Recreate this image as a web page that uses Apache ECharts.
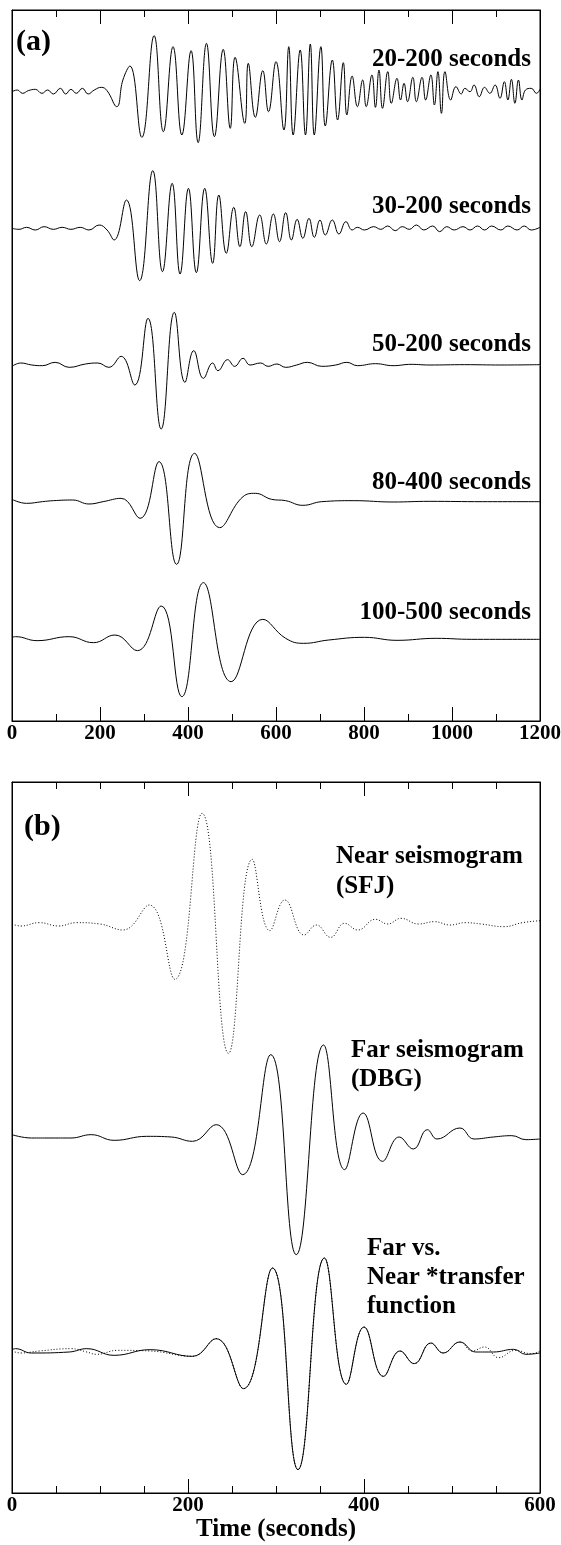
<!DOCTYPE html>
<html><head><meta charset="utf-8">
<script src="https://cdn.jsdelivr.net/npm/echarts@6/dist/echarts.min.js"></script>
<style>html,body{margin:0;padding:0;background:#fff}#c{width:561px;height:1545px}</style>
</head><body><div id="c"></div>
<script>
// ---------- Panel (a): band-passed seismograms, [time s, amplitude] ----------
const tick_a = [0, 200, 400, 600, 800, 1000, 1200];
const labels_a = ['20-200 seconds', '30-200 seconds', '50-200 seconds', '80-400 seconds', '100-500 seconds'];
const offsets_a = [1888, 1478, 1068, 658, 246];

const bp20_200 = [[0,0],[12,5],[24,-5],[37,3],[53,7],[68,-5],[81,5],[94,-7],[110,10],[122,-7],[134,7],[146,-5],[160,10],[173,-7],[187,5],[203,13],[216,3],[238,-45],[252,35],[268,77],[295,-137],[323,168],[344,-120],[366,135],[386,-130],[407,123],[423,-153],[442,145],[460,-135],[480,127],[496,-110],[507,103],[529,-95],[537,85],[553,-77],[570,63],[583,-60],[600,90],[618,-115],[629,135],[639,-130],[655,125],[667,-130],[678,143],[687,-130],[702,135],[712,-103],[728,95],[740,-85],[753,87],[761,-70],[773,47],[785,-45],[797,35],[805,-45],[818,50],[826,-47],[834,65],[842,-50],[854,60],[862,-35],[875,40],[883,-25],[891,25],[899,-30],[911,43],[919,-30],[932,43],[940,-25],[952,50],[960,-40],[968,60],[976,-65],[984,60],[997,-25],[1009,15],[1021,-7],[1029,10],[1041,0],[1050,20],[1062,-15],[1074,13],[1086,-5],[1098,20],[1109,-20],[1119,30],[1127,-25],[1135,37],[1143,-35],[1151,35],[1159,-25],[1167,5],[1180,10],[1192,-5],[1200,7]];

const bp30_200 = [[0,0],[16,-3],[33,3],[53,-5],[73,5],[94,-3],[114,3],[134,-3],[155,3],[175,-5],[198,10],[216,-5],[232,-35],[260,85],[290,-157],[320,173],[342,-130],[364,135],[382,-137],[401,120],[419,-133],[438,120],[456,-105],[470,100],[487,-75],[504,63],[518,-55],[531,50],[545,-55],[563,40],[578,-47],[594,43],[608,-40],[622,47],[635,-35],[648,27],[661,-30],[675,30],[687,-27],[700,25],[712,-20],[728,25],[743,-17],[759,20],[773,-5],[785,3],[801,-5],[822,5],[838,-3],[854,7],[871,-7],[887,5],[903,-3],[919,10],[936,-5],[956,7],[972,-10],[988,5],[1005,-5],[1025,5],[1041,-5],[1058,7],[1074,-5],[1090,7],[1111,-5],[1127,7],[1148,-5],[1164,7],[1180,-5],[1200,3]];

const bp50_200 = [[0,-4],[20,6],[45,0],[69,-2],[98,8],[130,-7],[167,3],[195,6],[220,-7],[248,26],[279,-60],[309,140],[339,-192],[369,158],[393,-52],[413,43],[435,-40],[456,6],[468,-17],[490,16],[506,-4],[525,20],[541,0],[565,6],[582,-4],[602,3],[622,-7],[647,0],[671,8],[704,-4],[736,0],[761,8],[785,-2],[826,4],[866,-2],[907,2],[948,0],[1029,1],[1111,0],[1200,1]];

const bp80_400 = [[0,7],[33,-5],[69,0],[94,3],[138,5],[175,-7],[207,0],[248,10],[291,-50],[334,120],[374,-188],[415,145],[472,-78],[525,15],[553,25],[590,7],[622,3],[661,-11],[704,0],[777,3],[866,-1],[948,1],[1070,0],[1200,0]];

const bp100_500 = [[0,5],[8,7],[57,-5],[130,7],[185,-11],[234,12],[285,-35],[339,99],[386,-173],[435,169],[498,-128],[570,59],[622,2],[663,-13],[720,-3],[801,5],[875,-4],[964,2],[1045,-1],[1200,-1]];

// ---------- Panel (b): near / far seismograms ----------
const tick_b = [0, 200, 400, 600];
const offsets_b = [1707, 1065, 423];

const nearSFJ = [[0,0],[10,-6],[31,4],[53,-6],[73,4],[100,0],[126,-18],[156,57],[185,-166],[216,332],[246,-388],[273,194],[293,-20],[310,72],[332,-33],[346,-3],[362,-40],[378,2],[393,-18],[413,14],[427,0],[442,17],[462,0],[480,7],[498,-3],[515,4],[533,0],[559,-8],[580,4],[600,10]];

const farDBG = [[0,10],[22,0],[43,0],[67,0],[90,10],[116,-7],[153,5],[181,3],[205,-10],[232,40],[262,-110],[294,250],[323,-350],[354,279],[378,-95],[399,75],[421,-70],[440,3],[456,-33],[472,25],[483,-3],[509,30],[525,-3],[547,3],[568,7],[584,-5],[600,-3]];

const farObserved = [[0,7],[4,10],[22,-3],[65,0],[85,10],[116,-10],[157,7],[205,-13],[232,40],[263,-110],[296,252],[325,-353],[355,282],[380,-97],[400,75],[422,-73],[441,3],[457,-35],[476,27],[490,-3],[509,30],[527,0],[547,0],[570,8],[584,-7],[600,-3]];

const nearTransfer = [[0,3],[10,-3],[31,3],[67,10],[85,0],[96,-7],[120,5],[157,3],[205,-13],[232,40],[263,-110],[296,252],[325,-353],[355,282],[380,-97],[400,75],[422,-73],[441,3],[457,-35],[476,27],[490,-3],[509,30],[523,3],[537,15],[553,-17],[572,5],[590,-5],[600,3]];

// ---------- build chart ----------
const FONT = '"Liberation Serif", "Times New Roman", serif';
const Y_MAX = 2133;

function shift(arr, off) { return arr.map(p => [p[0], p[1] + off]); }

function xAxes(gi, max, minorSplit, name) {
  const common = {
    type: 'value', gridIndex: gi, min: 0, max: max, interval: 200,
    axisLine: { show: true, onZero: false, lineStyle: { color: '#000', width: 1 } },
    axisTick: { show: true, inside: true, length: 14, lineStyle: { color: '#000', width: 1 } },
    minorTick: { show: true, splitNumber: minorSplit, length: 7, lineStyle: { color: '#000', width: 1 } },
    splitLine: { show: false }, minorSplitLine: { show: false }
  };
  const bottom = Object.assign({}, common, {
    position: 'bottom',
    axisLabel: { show: true, color: '#000', fontFamily: FONT, fontWeight: 'bold', fontSize: 21, margin: 2,
      showMinLabel: true, showMaxLabel: true, hideOverlap: false, formatter: v => String(v) }
  });
  if (name) {
    bottom.name = name; bottom.nameLocation = 'middle'; bottom.nameGap = 22;
    bottom.nameTextStyle = { color: '#000', fontFamily: FONT, fontWeight: 'bold', fontSize: 25 };
  }
  const top = Object.assign({}, common, { position: 'top', axisLabel: { show: false } });
  return [bottom, top];
}

function yAxes(gi) {
  const c = { type: 'value', gridIndex: gi, min: 0, max: Y_MAX, axisLabel: { show: false }, axisTick: { show: false }, splitLine: { show: false },
    axisLine: { show: true, onZero: false, lineStyle: { color: '#000', width: 1 } } };
  return [Object.assign({}, c, { position: 'left' }), Object.assign({}, c, { position: 'right' })];
}

function lineSeries(data, xi, yi, dotted) {
  return {
    type: 'line', xAxisIndex: xi, yAxisIndex: yi, data: data, smooth: 0.45,
    showSymbol: false, symbol: 'none', silent: true, animation: false,
    lineStyle: { color: '#000', width: 1, type: dotted ? [1, 2] : 'solid' }
  };
}

function txt(text, x, y, size, align) {
  return { type: 'text', silent: true, x: x, y: y,
    style: { text: text, x: 0, y: 0, fill: '#000', font: 'bold ' + size + 'px ' + FONT,
      align: align, textAlign: align, verticalAlign: 'middle', textVerticalAlign: 'middle' } };
}

const tracesA = [bp20_200, bp30_200, bp50_200, bp80_400, bp100_500];
const labelYA = [60, 207, 345, 483, 613];

const series = [];
tracesA.forEach((tr, i) => series.push(lineSeries(shift(tr, offsets_a[i]), 0, 0, false)));
series.push(lineSeries(shift(nearSFJ, offsets_b[0]), 2, 2, true));
series.push(lineSeries(shift(farDBG, offsets_b[1]), 2, 2, false));
series.push(lineSeries(shift(nearTransfer, offsets_b[2]), 2, 2, true));
series.push(lineSeries(shift(farObserved, offsets_b[2]), 2, 2, false));

const graphics = [];
labels_a.forEach((l, i) => graphics.push(txt(l, 531, labelYA[i], 25, 'right')));
graphics.push(txt('(a)', 16, 42, 30, 'left'));
graphics.push(txt('(b)', 24, 827, 30, 'left'));
graphics.push(txt('Near seismogram', 336, 857, 25, 'left'));
graphics.push(txt('(SFJ)', 336, 887, 25, 'left'));
graphics.push(txt('Far seismogram', 351, 1051, 25, 'left'));
graphics.push(txt('(DBG)', 351, 1080, 25, 'left'));
graphics.push(txt('Far vs.', 367, 1249, 25, 'left'));
graphics.push(txt('Near *transfer', 367, 1278, 25, 'left'));
graphics.push(txt('function', 367, 1307, 25, 'left'));

const chart = echarts.init(document.getElementById('c'), null, { renderer: 'canvas' });
chart.setOption({
  backgroundColor: '#fff',
  animation: false,
  grid: [
    { left: 12, top: 10, width: 528, height: 711, show: true, borderColor: '#000', borderWidth: 1, containLabel: false, outerBoundsMode: 'none' },
    { left: 12, top: 782, width: 528, height: 711, show: true, borderColor: '#000', borderWidth: 1, containLabel: false, outerBoundsMode: 'none' }
  ],
  xAxis: xAxes(0, 1200, 2, null).concat(xAxes(1, 600, 4, 'Time (seconds)')),
  yAxis: yAxes(0).concat(yAxes(1)),
  series: series,
  graphic: graphics
});
</script></body></html>
